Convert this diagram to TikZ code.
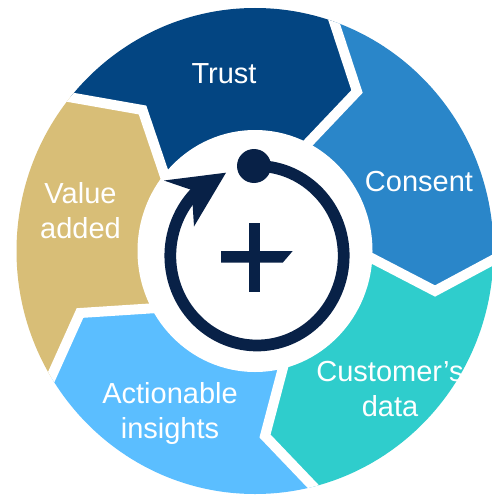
\documentclass[tikz,border=0pt]{standalone}
\usepackage{fontspec}
\setmainfont{Liberation Sans}
\definecolor{trustc}{RGB}{3,69,130}
\definecolor{consentc}{RGB}{42,134,201}
\definecolor{custc}{RGB}{47,205,204}
\definecolor{actc}{RGB}{91,190,255}
\definecolor{valc}{RGB}{216,190,119}
\definecolor{navyc}{RGB}{8,33,71}
\begin{document}
\begin{tikzpicture}[x=1pt,y=-1pt,
  gap/.style={draw=white,line width=10pt,line join=miter,miter limit=10},
  lbl/.style={text=white,font=\fontsize{29}{35}\selectfont,align=center,inner sep=0pt,anchor=base},
  icon/.style={fill=navyc}
]
\useasboundingbox (0,0) rectangle (491,495);
\fill[white] (0,0) rectangle (491,495);
\coordinate (C) at (255,251);
% chevron boundaries: outer (extended), tip, inner (extended)
\coordinate (o1) at (320.2,-20.5); \coordinate (t1) at (357,91.5);  \coordinate (i1) at (281.8,170.7);
\coordinate (o2) at (524.6,243);   \coordinate (t2) at (435,291);   \coordinate (i2) at (331.8,237.4);
\coordinate (o3) at (350.6,525.6); \coordinate (t3) at (265,436);   \coordinate (i3) at (292.2,332.8);
\coordinate (o4) at (33.6,416.2);  \coordinate (t4) at (80,313);    \coordinate (i4) at (191.2,305.8);
\coordinate (o5) at (28.9,90);     \coordinate (t5) at (142.5,110); \coordinate (i5) at (176.1,209.2);
\begin{scope}
  \clip (C) ellipse [x radius=238.5, y radius=243];
  \fill[trustc]   (o5) -- (t5) -- (i5) -- (C) -- (i1) -- (t1) -- (o1) -- (185.5,-142.9) -- cycle;
  \fill[consentc] (o1) -- (t1) -- (i1) -- (C) -- (i2) -- (t2) -- (o2) -- (611.4,69.4) -- cycle;
  \fill[custc]    (o2) -- (t2) -- (i2) -- (C) -- (i3) -- (t3) -- (o3) -- (549.9,521.2) -- cycle;
  \fill[actc]     (o3) -- (t3) -- (i3) -- (C) -- (i4) -- (t4) -- (o4) -- (70.3,605.8) -- cycle;
  \fill[valc]     (o4) -- (t4) -- (i4) -- (C) -- (i5) -- (t5) -- (o5) -- (-138.9,181.5) -- cycle;
  \draw[gap] (o1) -- (t1) -- (i1);
  \draw[gap] (o2) -- (t2) -- (i2);
  \draw[gap] (o3) -- (t3) -- (i3);
  \draw[gap] (o4) -- (t4) -- (i4);
  \draw[gap] (o5) -- (t5) -- (i5);
\end{scope}
\fill[white] (C) ellipse [x radius=117.5, y radius=121];
% center icon
\coordinate (rc) at (257,255.75);
\draw[navyc,line width=11.7pt] (rc) ++(-92:86.7 and 89.75) arc[start angle=-92, end angle=227, x radius=86.7, y radius=89.75];
\fill[icon] (226,172.7) -- (164,180.5) -- (191.7,190) -- (194,226.5) -- cycle;
\fill[icon] (254,166) circle[radius=17];
\fill[icon] (221,251) -- (292.7,251) -- (282.7,262.7) -- (221,262.7) -- cycle;
\fill[icon] (249.3,222.7) rectangle (260,292.3);
% labels (base = baseline of the last line)
\node[lbl] (trust)   at (224,83.3)   {Trust};
\node[lbl] (consent) at (419,191.7)  {Consent};
\node[lbl] (cust)    at (390,416.7)  {Customer’s\\data};
\node[lbl] (act)     at (170,438.8)  {Actionable\\insights};
\node[lbl] (val)     at (80.5,238.3) {Value\\added};
\end{tikzpicture}
\end{document}
